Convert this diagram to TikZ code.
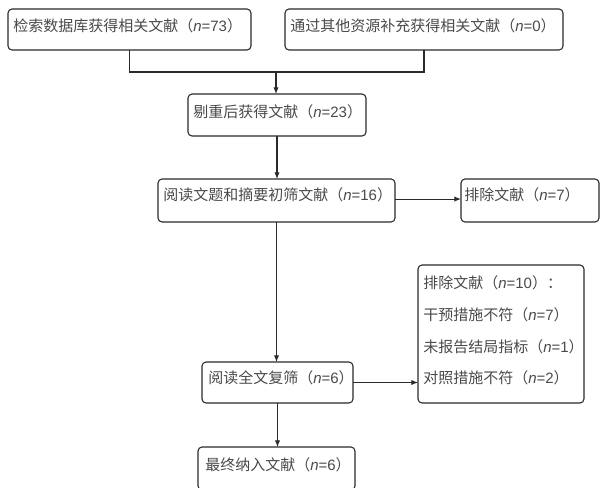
\documentclass[tikz,border=0pt]{standalone}
\usepackage{fontspec}
\setmainfont{Noto Sans CJK SC}
\newfontfamily\latf{Liberation Sans}
\usetikzlibrary{arrows.meta}
\newcommand{\nv}[1]{{\latf\textit{n}=#1}}
\newcommand{\bx}[5]{\node[box, minimum width={(#4-#2)*0.75pt}, minimum height={(#5-#3)*0.75pt}] (#1) at ({(#2+#4)/2},{(#3+#5)/2}) {};}
\definecolor{txtc}{HTML}{4A4A4A}
\definecolor{linec}{HTML}{2A2A2A}
\begin{document}
\begin{tikzpicture}[x=0.75pt,y=-0.75pt,
  box/.style={draw=linec, rounded corners=3pt, line width=0.8pt, inner sep=0pt, outer sep=0pt},
  txt/.style={anchor=west, inner sep=0pt, text=txtc, font=\fontsize{11.25pt}{13pt}\selectfont},
  conn/.style={draw=linec, line width=0.8pt},
  arr/.style={conn, -{Latex[length=5pt,width=4pt]}}]
\useasboundingbox (0,0) rectangle (603,487);
\clip (0,0) rectangle (603,487);
\fill[white] (0,0) rectangle (603,487);
% boxes
\bx{b1}{8}{9}{251}{50}
\bx{b2}{285}{9}{563}{50}
\bx{b3}{188}{94}{366}{136}
\bx{b4}{158}{179}{395}{222}
\bx{e1}{461}{179}{599}{222}
\bx{b5}{202}{362}{353}{403}
\bx{e2}{418}{265}{584}{403}
\bx{b6}{198}{447}{355}{490}
% texts
\node[txt] (t1) at ([shift={(5,17)}]b1.north west) {检索数据库获得相关文献（\nv{73}）};
\node[txt] (t2) at ([shift={(5,17)}]b2.north west) {通过其他资源补充获得相关文献（\nv{0}）};
\node[txt] (t3) at ([shift={(5,18)}]b3.north west) {剔重后获得文献（\nv{23}）};
\node[txt] (t4) at ([shift={(5,16)}]b4.north west) {阅读文题和摘要初筛文献（\nv{16}）};
\node[txt] (t5) at ([shift={(3,16)}]e1.north west) {排除文献（\nv{7}）};
\node[txt] (t6) at ([shift={(6,16)}]b5.north west) {阅读全文复筛（\nv{6}）};
\node[txt] (t7) at ([shift={(5,18)}]e2.north west) {排除文献（\nv{10}）：};
\node[txt] (t8) at ([shift={(5,50)}]e2.north west) {干预措施不符（\nv{7}）};
\node[txt] (t9) at ([shift={(5,82)}]e2.north west) {未报告结局指标（\nv{1}）};
\node[txt] (t10) at ([shift={(5,113)}]e2.north west) {对照措施不符（\nv{2}）};
\node[txt] (t11) at ([shift={(7,18)}]b6.north west) {最终纳入文献（\nv{6}）};
% connectors
\coordinate (j) at (276,72);
\draw[conn] (b1.south) -- (b1.south |- j) -- (b2.south |- j) -- (b2.south);
\draw[arr] (j) -- (j |- b3.north);
\draw[arr] (b3.south) -- (b3.south |- b4.north);
\draw[arr] ([yshift=1.1pt]b4.east) -- ([yshift=1.1pt]b4.east -| e1.west);
\draw[arr] (b4.south) -- (b4.south |- b5.north);
\draw[arr] (b5.east) -- (b5.east -| e2.west);
\draw[arr] (b5.south) -- (b5.south |- b6.north);
\end{tikzpicture}
\end{document}
